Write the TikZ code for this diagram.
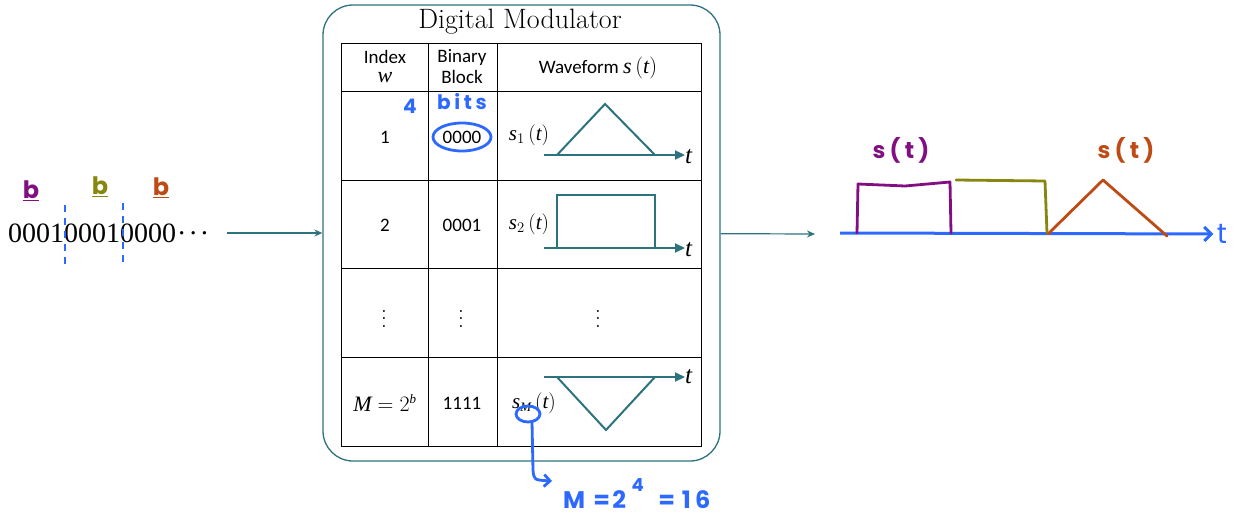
\RequirePackage{fix-cm}
\documentclass[tikz,border=0pt]{standalone}
\usepackage{fontspec}
\usepackage{xcolor}
\usepackage{graphicx}
\usetikzlibrary{arrows.meta, positioning}
\newfontfamily\tabfont{Carlito}
\newfontfamily\bitfont{Liberation Serif}
\newfontfamily\handfont{Poppins}[LetterSpace=18]
\newcommand{\iv}[1]{\mbox{\bitfont\itshape #1}}
\newcommand{\ivs}[1]{\mbox{\bitfont\itshape\fontsize{13}{13}\selectfont #1}}
\definecolor{modteal}{RGB}{45,115,125}
\definecolor{penblue}{RGB}{45,105,255}
\definecolor{penpurple}{RGB}{130,15,130}
\definecolor{penolive}{RGB}{135,135,15}
\definecolor{penbrown}{RGB}{190,75,20}

\begin{document}
\begin{tikzpicture}[x=1pt, y=-1pt,
        cell/.style={font=\tabfont\fontsize{19}{21}\selectfont, align=center},
        wave/.style={draw=modteal, line width=2pt},
        axis/.style={modteal, line width=2pt, -{Triangle[length=10pt,width=9pt]}},
        flow/.style={modteal, line width=1.2pt, -{Stealth[length=8pt,width=7pt]}},
        hand/.style={font=\handfont\bfseries\fontsize{20}{22}\selectfont},
        mathlab/.style={font=\fontsize{21}{22}\selectfont},
        tlab/.style={font=\bitfont\itshape\fontsize{25}{25}\selectfont, inner sep=0pt, anchor=west},
        ink/.style={line width=2.8pt, line cap=round, line join=round}]
        \useasboundingbox (0,0) rectangle (1239,514);
%
        \node[draw=modteal, line width=1.3pt, rounded corners=30pt, minimum width=397pt, minimum height=456pt] (mod) at (521.5,233) {};
        \node[font=\fontsize{28}{30}\selectfont] (title) at (520,22) {Digital Modulator};
%
        \draw[line width=1pt] (341,43) rectangle (701,446);
        \foreach \x in {428,497} \draw[line width=1pt] (\x,43) -- (\x,446);
        \foreach \y in {91,180,268,357} \draw[line width=1pt] (341,\y) -- (701,\y);
%
        \node[cell] (idx) at (385,67) {Index\\[-2pt]{\fontsize{22}{22}\selectfont\iv{w}}};
        \node[cell] (blk) at (462,67) {Binary\\Block};
        \node[cell] (wav) at (598,68) {Waveform {\fontsize{22}{22}\selectfont$\iv{s}\left(\iv{t}\right)$}};
        \foreach \y/\w/\b in {137/1/0000, 225/2/0001, 403/{\fontsize{22}{22}\selectfont$\iv{M}=2^{\ivs{b}}$}/1111} {
            \node[cell] (idx\y) at (385,\y) {\w};
            \node[cell] (blk\y) at (462,\y) {\b};
        }
        \foreach \x/\n in {384/a, 461/b, 598/c}
            \node[inner sep=0pt] (dots\n) at (\x,313) {\scalebox{1.9}{$\vdots$}};
%
        \node[mathlab] (s1) at (529,135) {$\iv{s}_1\left(\iv{t}\right)$};
        \node[tlab] (t1) at (685,157) {t};
        \coordinate (o1) at (544,155);
        \draw[axis] (o1) -- (o1 -| t1.west);
        \draw[wave] (557,155) -- (605,104) -- (655,155);
%
        \node[mathlab] (s2) at (529,224) {$\iv{s}_2\left(\iv{t}\right)$};
        \node[tlab] (t2) at (685,250) {t};
        \coordinate (o2) at (544,248);
        \draw[axis] (o2) -- (o2 -| t2.west);
        \draw[wave] (557,248) -- (557,195) -- (655,195) -- (655,248);
%
        \node[mathlab] (sM) at (534,403) {$\iv{s}_{\ivs{M}}\left(\iv{t}\right)$};
        \node[tlab] (tM) at (685,377) {t};
        \coordinate (oM) at (544,377);
        \draw[axis] (oM) -- (oM -| tM.west);
        \draw[wave] (557,377) -- (606,430) -- (655,377);
%
        \node[hand, text=penblue, anchor=base] (nfour) at (410,113) {4};
        \node[hand, text=penblue, anchor=base] (nbits) at (462,109) {bits};
        \draw[penblue, ink] (blk137) ellipse (29 and 14);
        \draw[penblue, ink] (528,414) ellipse (12 and 8);
        \draw[penblue, ink, -{Straight Barb[length=6pt]}] (532,422) -- (533,470) .. controls (534,480) .. (552,481);
        \node[hand, text=penblue, font=\handfont\bfseries\fontsize{24}{26}\selectfont, anchor=base west, inner sep=0pt] (msize) at (561,508)
            {\makebox[26pt]{M}\hspace{7pt}\makebox[15pt]{=}\hspace{2pt}\makebox[16pt]{2}\hspace{4pt}%
             \raisebox{17pt}{\makebox[13pt]{\fontsize{18}{18}\selectfont 4}}\hspace{15pt}\makebox[15pt]{=}\hspace{2pt}\makebox[40pt]{16}};
%
        \node[font=\bitfont\fontsize{28}{30}\selectfont, anchor=west, inner sep=0pt] (bits) at (8,233)
            {000100010000\hspace{1pt}\textperiodcentered\hspace{2pt}\textperiodcentered\hspace{2pt}\textperiodcentered};
        \draw[penblue, dash pattern=on 7pt off 6pt, line width=1.5pt] (65,205) -- (65,265);
        \draw[penblue, dash pattern=on 7pt off 6pt, line width=1.5pt] (123,203) -- (123,262);
        \node[hand, text=penpurple, font=\handfont\bfseries\fontsize{24}{26}\selectfont] (b1) at (31,191) {\underline{b}};
        \node[hand, text=penolive, font=\handfont\bfseries\fontsize{24}{26}\selectfont] (b2) at (100,187) {\underline{b}};
        \node[hand, text=penbrown, font=\handfont\bfseries\fontsize{24}{26}\selectfont] (b3) at (161,188) {\underline{b}};
%
        \coordinate (sig) at (815,234);
        \path[flow]
        (bits) edge [shorten <=18pt] (mod)
        (mod) edge (sig);
%
        \node[font=\handfont\fontsize{28}{28}\selectfont, text=penblue] (tout) at (1222,234) {t};
        \coordinate (ax0) at (840,233);
        \draw[penblue, line width=3pt, -{Straight Barb[length=7pt]}] (ax0) -- (tout);
        \draw[penpurple, ink] (857,233) -- (858,184) -- (905,186) -- (950,182) -- (951,233);
        \draw[penolive, ink] (956,180) -- (1045,181) -- (1047,233);
        \draw[penbrown, ink] (1048,234) -- (1103,180) -- (1167,236);
        \node[hand, text=penpurple, font=\handfont\bfseries\fontsize{23}{24}\selectfont] (sa) at (901,150) {s(t)};
        \node[hand, text=penbrown, font=\handfont\bfseries\fontsize{23}{24}\selectfont] (sb) at (1126,150) {s(t)};
\end{tikzpicture}
\end{document}
